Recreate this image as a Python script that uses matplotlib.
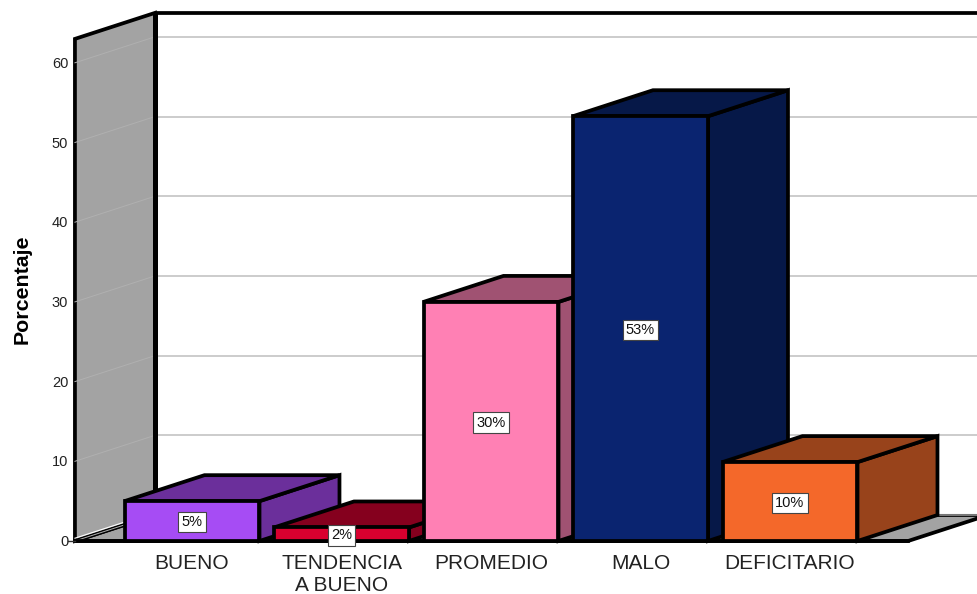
import matplotlib
matplotlib.use('Agg')
import matplotlib.pyplot as plt
from matplotlib.patches import Polygon

plt.rcParams['font.family'] = ['Liberation Sans', 'DejaVu Sans']

categories = ['BUENO', 'TENDENCIA\nA BUENO', 'PROMEDIO', 'MALO', 'DEFICITARIO']
values = [5.0, 1.7, 30.0, 53.3, 9.9]
value_labels = ['5%', '2%', '30%', '53%', '10%']
front_colors = ['#A64CF4', '#D9002F', '#FF80B4', '#0A2470', '#F4682A']
side_colors = ['#6B2F9B', '#85001E', '#A05272', '#061848', '#98431B']
yticks = [0, 10, 20, 30, 40, 50, 60]

# depth of the fake 3d box in data units
dx = 0.535
dy = 3.26
bar_w = 0.903
wall_x = -0.783
floor_x = 4.79
wall_top = 63
lw = 2.7

fig = plt.figure(figsize=(9.77, 5.94), dpi=100)
ax = fig.add_axes([0, 0, 1, 1])
ax.set_xlim(-192 / 149.5, (977 - 192) / 149.5)
ax.set_ylim(-53 / 7.97, 541 / 7.97)
ax.axis('off')


def poly(pts, fc, z, ec='black', w=lw):
    ax.add_patch(Polygon(pts, closed=True, facecolor=fc, edgecolor=ec, linewidth=w,
                         joinstyle='miter', zorder=z))


# floor and left wall
poly([(wall_x, 0), (floor_x, 0), (floor_x + dx, dy), (wall_x + dx, dy)], '#A3A3A3', 1)
poly([(wall_x, 0), (wall_x + dx, dy), (wall_x + dx, wall_top + dy), (wall_x, wall_top)], '#A3A3A3', 2)

# back wall
ax.fill_between([wall_x + dx, 7], dy + 0.2, wall_top + dy, color='white', zorder=1.5)
ax.plot([wall_x + dx, 7], [wall_top + dy, wall_top + dy], color='black', lw=lw, zorder=3, solid_capstyle='butt')
ax.plot([wall_x + dx, 7], [dy, dy], color='#777777', lw=1.5, zorder=1.6)
ax.plot([wall_x + dx, wall_x + dx], [dy, wall_top + dy], color='black', lw=3.6, zorder=3, solid_capstyle='butt')

for t in yticks[1:]:
    ax.plot([wall_x + dx, 7], [t + dy, t + dy], color='#CCCCCC', lw=1.4, zorder=1.7)
for t in yticks:
    ax.plot([wall_x, wall_x + dx], [t, t + dy], color='#B0B0B0', lw=0.7, zorder=2.5)
    ax.text(wall_x - 0.045, t - 0.15, str(t), ha='right', va='center', fontsize=10.5, color='#222222', zorder=8)
ax.plot([wall_x - 0.045, wall_x], [0, 0], color='#333333', lw=1, zorder=7)
ax.plot([wall_x, wall_x + dx], [0.35, dy + 0.35], color='white', lw=0.8, zorder=2.6)

# front floor edge
ax.plot([wall_x, floor_x], [0, 0], color='black', lw=lw, zorder=3)

for i, v in enumerate(values):
    l = i - bar_w / 2
    r = i + bar_w / 2
    z = 4 + i * 0.1
    poly([(r, 0), (r + dx, dy), (r + dx, v + dy), (r, v)], side_colors[i], z)
    poly([(l, v), (r, v), (r + dx, v + dy), (l + dx, v + dy)], side_colors[i], z)
    poly([(l, 0), (r, 0), (r, v), (l, v)], front_colors[i], z + 0.01)
    ax.text(i, v / 2 - 0.15, value_labels[i], ha='center', va='center', fontsize=10.5, color='#111111', zorder=9,
            bbox=dict(boxstyle='square,pad=0.22', facecolor='white', edgecolor='#444444', linewidth=0.8))
    ax.text(i, -1.65, categories[i], ha='center', va='top', fontsize=15, color='#222222', linespacing=1.22, zorder=9)

ax.text(-1.135, 31.6, 'Porcentaje', rotation=90, ha='center', va='center', fontsize=15.4,
        fontweight='bold', color='black')

fig.savefig('out.png', dpi=100)
